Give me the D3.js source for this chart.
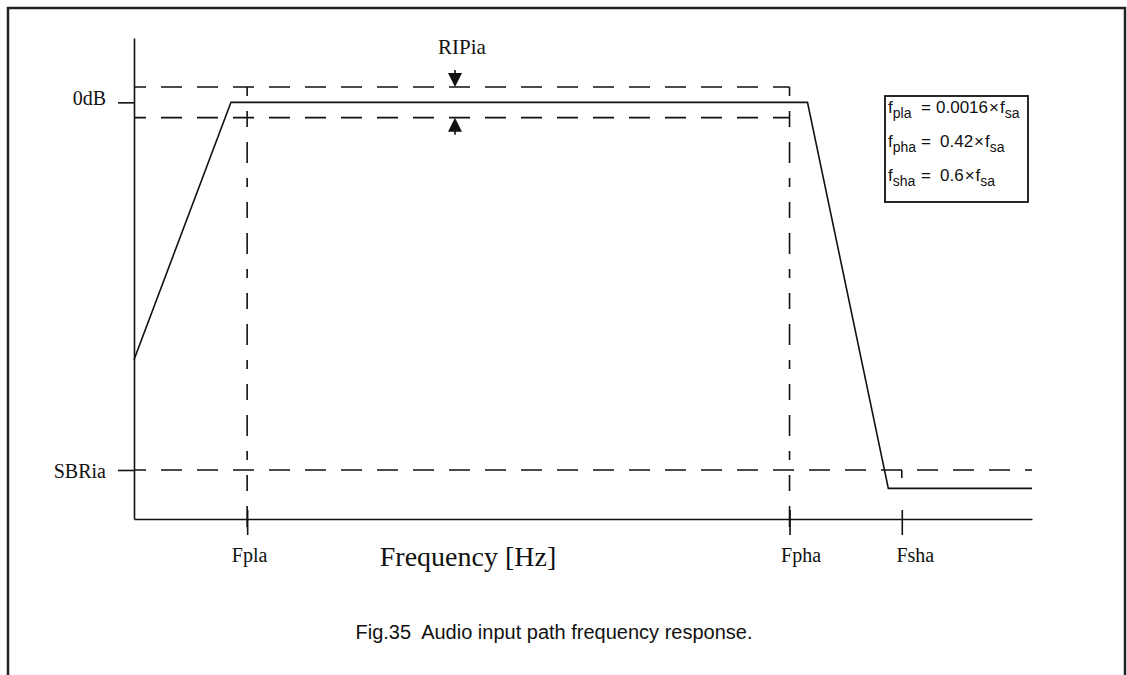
<!DOCTYPE html>
<html>
<head>
<meta charset="utf-8">
<script src="https://cdn.jsdelivr.net/npm/d3@7.9.0/dist/d3.min.js"></script>
<style>
  html, body { margin: 0; padding: 0; background: #fff; }
  svg { display: block; }
  .serif { font-family: "Liberation Serif", "Times New Roman", serif; fill: #111; }
  .sans { font-family: "Liberation Sans", Arial, sans-serif; fill: #111; }
</style>
</head>
<body>
<div id="chart"></div>
<script>
// frequency in arbitrary units (0..100), level in dB
const xDomain = [0, 100];
const yDomain = [-68, 10.5];

const freqTicks = [12.6, 73, 85.5];
const freqTickLabels = ['Fpla', 'Fpha', 'Fsha'];

const levelTicks = [0, -60];
const levelTickLabels = ['0dB', 'SBRia'];

const ripple = [2.5, -2.5];
const stopBand = -60;

// filter response corners: [frequency, level]
const response = [
  [0, -42],
  [10.8, 0],
  [75, 0],
  [84, -63],
  [100, -63],
];

const formulaNames = ['pla', 'pha', 'sha'];
const formulaFactors = ['0.0016', '0.42', '0.6'];

const width = 1127;
const height = 675;
const margin = { left: 134, right: 95, top: 38, bottom: 156 };

const svg = d3
  .select('#chart')
  .append('svg')
  .attr('width', width)
  .attr('height', height);

// outer frame, open at the bottom
svg
  .append('path')
  .attr('d', `M8,${height + 5}V8H1125V${height + 5}`)
  .attr('fill', 'none')
  .attr('stroke', '#222')
  .attr('stroke-width', 2.5);

const xScale = d3
  .scaleLinear()
  .domain(xDomain)
  .range([margin.left, width - margin.right]);

const yScale = d3
  .scaleLinear()
  .domain(yDomain)
  .range([height - margin.bottom, margin.top]);

const dash = '21 15';
const lineColor = '#111';

const guides = svg.append('g').attr('fill', 'none').attr('stroke', lineColor).attr('stroke-width', 1.6);

// ripple band lines
ripple.forEach((r) => {
  guides
    .append('line')
    .attr('x1', xScale(0))
    .attr('x2', xScale(freqTicks[1]))
    .attr('y1', yScale(r))
    .attr('y2', yScale(r))
    .attr('stroke-dasharray', dash)
    .attr('stroke-dashoffset', 9);
});

// stop band line
guides
  .append('line')
  .attr('x1', xScale(0))
  .attr('x2', xScale(100))
  .attr('y1', yScale(stopBand))
  .attr('y2', yScale(stopBand))
  .attr('stroke-dasharray', dash)
  .attr('stroke-dashoffset', 9);

// vertical pass band edges
[freqTicks[0], freqTicks[1]].forEach((f) => {
  guides
    .append('line')
    .attr('x1', xScale(f))
    .attr('x2', xScale(f))
    .attr('y1', yScale(ripple[0]))
    .attr('y2', yScale(yDomain[0]) + 16)
    .attr('stroke-dasharray', '9 15 16 15 21 15');
});

// short mark under the stop band line at Fsha
guides
  .append('line')
  .attr('x1', xScale(freqTicks[2]))
  .attr('x2', xScale(freqTicks[2]))
  .attr('y1', yScale(stopBand))
  .attr('y2', yScale(stopBand) + 8);

// axes
const xAxis = d3
  .axisBottom(xScale)
  .tickValues(freqTicks)
  .tickFormat((d, i) => freqTickLabels[i])
  .tickSize(16)
  .tickSizeOuter(0)
  .tickPadding(13);

const yAxis = d3
  .axisLeft(yScale)
  .tickValues(levelTicks)
  .tickFormat((d, i) => levelTickLabels[i])
  .tickSize(16)
  .tickSizeOuter(0)
  .tickPadding(12);

const gx = svg
  .append('g')
  .attr('transform', `translate(0, ${yScale(yDomain[0])})`)
  .call(xAxis);

const gy = svg
  .append('g')
  .attr('transform', `translate(${xScale(0)}, 0)`)
  .call(yAxis);

const labelDx = { Fpla: 2, Fpha: 11, Fsha: 13 };

[gx, gy].forEach((g) => {
  g.select('.domain').attr('stroke', lineColor).attr('stroke-width', 1.6);
  g.selectAll('.tick line').attr('stroke', lineColor).attr('stroke-width', 1.6);
  g.selectAll('.tick text')
    .attr('class', 'serif')
    .attr('fill', '#111')
    .style('font-size', '20px');
});

gx.selectAll('.tick line').attr('y1', -9);
gx.selectAll('.tick text').attr('dx', (d, i) => labelDx[freqTickLabels[i]]);
gy.selectAll('.tick text').attr('dy', (d, i) => (i === 0 ? '0.1em' : '0.4em'));

// response curve
const line = d3
  .line()
  .x((d) => xScale(d[0]))
  .y((d) => yScale(d[1]));

svg
  .append('path')
  .datum(response)
  .attr('d', line)
  .attr('fill', 'none')
  .attr('stroke', lineColor)
  .attr('stroke-width', 1.6)
  .attr('stroke-linejoin', 'miter');

// ripple arrows
const ax = 455;
const arrows = svg.append('g').attr('fill', lineColor).attr('stroke', lineColor);
const yTop = yScale(ripple[0]);
const yBot = yScale(ripple[1]);

arrows.append('line').attr('x1', ax).attr('x2', ax).attr('y1', yTop - 17).attr('y2', yTop - 8).attr('stroke-width', 1.6);
arrows.append('path').attr('d', `M${ax - 7},${yTop - 14}L${ax + 7},${yTop - 14}L${ax},${yTop}Z`).attr('stroke', 'none');
arrows.append('line').attr('x1', ax).attr('x2', ax).attr('y1', yBot + 8).attr('y2', yBot + 17).attr('stroke-width', 1.6);
arrows.append('path').attr('d', `M${ax - 7},${yBot + 14}L${ax + 7},${yBot + 14}L${ax},${yBot}Z`).attr('stroke', 'none');

svg
  .append('text')
  .attr('class', 'serif')
  .attr('x', 462)
  .attr('y', 54)
  .attr('text-anchor', 'middle')
  .style('font-size', '21px')
  .text('RIPia');

// axis title
svg
  .append('text')
  .attr('class', 'serif')
  .attr('x', 468)
  .attr('y', 566)
  .attr('text-anchor', 'middle')
  .style('font-size', '28px')
  .text('Frequency [Hz]');

// formula box
const box = svg.append('g').attr('transform', 'translate(885, 96)');
box
  .append('rect')
  .attr('width', 143)
  .attr('height', 106)
  .attr('fill', '#fff')
  .attr('stroke', '#111')
  .attr('stroke-width', 1.8);

formulaNames.forEach((name, i) => {
  const t = box
    .append('text')
    .attr('class', 'sans')
    .attr('y', 17 + i * 34)
    .style('font-size', '17px');
  t.append('tspan').attr('x', 3).text('f');
  t.append('tspan').attr('dy', 5).style('font-size', '14px').text(name);
  t.append('tspan').attr('dy', -5).attr('x', 36).text('=');
  t.append('tspan').attr('x', i === 0 ? 51 : 55).text(formulaFactors[i]);
  t.append('tspan').attr('dx', 1).text('\u00d7');
  t.append('tspan').attr('dx', 1).text('f');
  t.append('tspan').attr('dy', 5).style('font-size', '14px').text('sa');
});

// caption
svg
  .append('text')
  .attr('class', 'sans')
  .attr('x', 554)
  .attr('y', 639)
  .attr('text-anchor', 'middle')
  .attr('xml:space', 'preserve')
  .style('white-space', 'pre')
  .style('font-size', '20px')
  .text('Fig.35  Audio input path frequency response.');
</script>
</body>
</html>
